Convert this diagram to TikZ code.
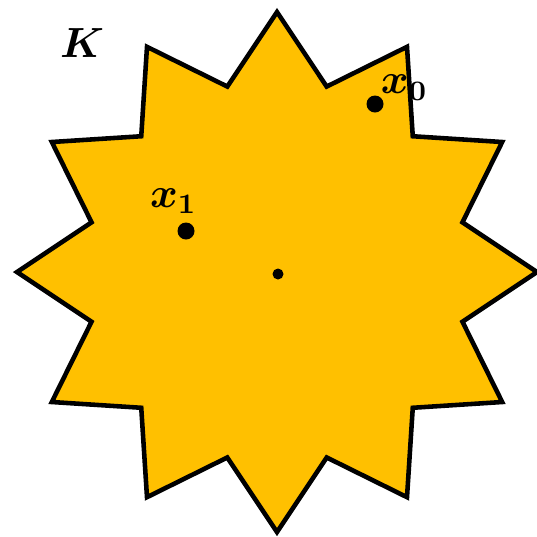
\documentclass[tikz,border=0pt]{standalone}
\usepackage{amsmath,amssymb}
\usepackage{xcolor}
\usepackage{tikz}
\usetikzlibrary{positioning,calc}
\definecolor{stargold}{HTML}{FFC000}
\definecolor{inkprimary}{HTML}{000000}

\begin{document}
\begin{tikzpicture}[
    font=\large\boldmath,
    star/.style={draw=inkprimary, fill=stargold, line width=1.3pt, line join=miter},
    pt/.style={circle, fill=inkprimary, inner sep=0pt, minimum size=1.7mm},
    smallpt/.style={circle, fill=inkprimary, inner sep=0pt, minimum size=1.1mm},
    lbl/.style={inner sep=0.5pt, text=inkprimary},
  ]
  \useasboundingbox (0,0) rectangle (5.37,-5.36);
  \coordinate (c) at (2.77,-2.72);

  % star outline
  \draw[star] ($(c)+(90:2.60)$)
    \foreach \i in {0,...,11} {
      -- ($(c)+(105+30*\i:1.92)$) -- ($(c)+(120+30*\i:2.60)$)
    } -- cycle;

  \node[lbl] (K) at (0.82,-0.43) {$K$};
  \node[pt] (x0) at (3.75,-1.04) {};
  \node[lbl, above right=-0.5mm and -0.3mm of x0] (x0lbl) {$x_0$};
  \node[pt] (x1) at (1.86,-2.31) {};
  \node[lbl, above=0.6mm of x1, xshift=-1.25mm] (x1lbl) {$x_1$};
  \node[smallpt] (o) at (2.78,-2.74) {};
\end{tikzpicture}
\end{document}
